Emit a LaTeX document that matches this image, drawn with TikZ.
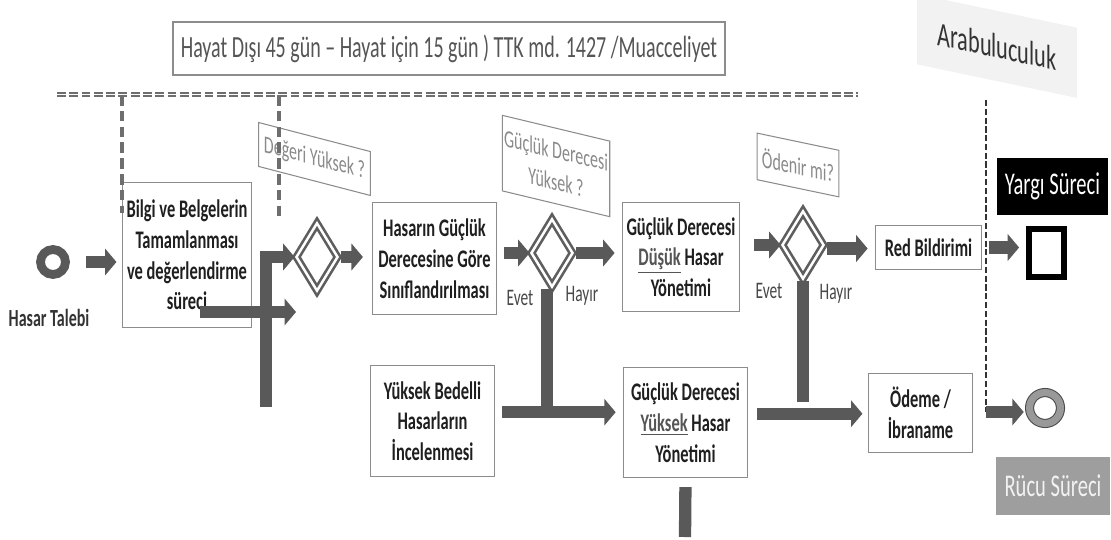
\documentclass[tikz,border=0pt]{standalone}
\usepackage{fontspec}
\setmainfont[FakeStretch=0.65]{Carlito}
\usetikzlibrary{arrows.meta,shapes.geometric}
\definecolor{arrgray}{HTML}{595959}
\definecolor{boxgray}{HTML}{8C8C8C}
\definecolor{txtgray}{HTML}{555555}
\definecolor{qgray}{HTML}{8A8A8A}
\definecolor{diagray}{HTML}{5E5E5E}
\definecolor{dashgray}{HTML}{6E6E6E}
\tikzset{
  box/.style={draw=boxgray, line width=0.6pt, fill=white, align=center, inner sep=1pt,
    text=black!88, font=\bfseries\fontsize{14.4}{17.5}\selectfont},
  blk/.style={draw=arrgray, line width=7pt, -{Triangle[length=6.5pt,width=15pt]}},
  barline/.style={draw=arrgray, line width=7pt},
  dia/.style={diamond, draw=diagray, double=white, double distance=1.4pt, line width=1.5pt,
    minimum width=24pt, minimum height=39pt, inner sep=0pt},
  qbox/.style={draw=boxgray, line width=0.6pt, fill=white, align=center, text=qgray,
    font=\fontsize{14}{16}\selectfont, inner sep=1pt},
  lbl/.style={text=black!72, font=\fontsize{13.5}{15}\selectfont, inner sep=0pt},
  thickdash/.style={draw=dashgray, line width=2.3pt, dash pattern=on 6pt off 3pt},
}
\begin{document}
\begin{tikzpicture}[x=0.02cm,y=-0.02cm]
\useasboundingbox (0,0) rectangle (1111,540);

% top note
\node[draw=boxgray, line width=0.9pt, minimum width=314pt, minimum height=30pt, text=txtgray,
  font=\fontsize{17.5}{19}\selectfont] (top) at (449,48.5)
  {Hayat Dışı 45 gün – Hayat için 15 gün ) TTK md. 1427 /Muacceliyet};

% Arabuluculuk
\node[yslant=-0.21, fill=black!5, minimum width=91pt, minimum height=40pt, text=black!80,
  font=\fontsize{19.5}{21}\selectfont] (arab) at (997,46) {Arabuluculuk};

% double dashed line
\coordinate (dl) at (57,94.5);
\coordinate (dr) at (858,94.5);
\draw[draw=dashgray, line width=1.2pt, double=white, double distance=0.9pt,
  dash pattern=on 5pt off 2pt] (dl) -- (dr);

% start ring
\node[circle, draw=arrgray, line width=5pt, minimum size=14.2pt, inner sep=0pt] (start) at (53,262) {};
\node[font=\bfseries\fontsize{14}{16}\selectfont, text=black!80] (startlbl) at (49,318) {Hasar Talebi};

% boxes
\node[box, minimum width=73.7pt, minimum height=82pt] (bilgi) at (187,255)
  {Bilgi ve Belgelerin\\Tamamlanması\\ve değerlendirme\\süreci};
\node[box, minimum width=70.9pt, minimum height=64pt] (sinif) at (434.5,258.5)
  {Hasarın Güçlük\\Derecesine Göre\\Sınıflandırılması};
\node[box, minimum width=67pt, minimum height=62.4pt] (dusuk) at (681,257)
  {Güçlük Derecesi\\{\color{txtgray}\underline{Düşük}} Hasar\\Yönetimi};
\node[box, minimum width=60.7pt, minimum height=25.5pt] (red) at (928.5,247.5) {Red Bildirimi};
\node[box, minimum width=70.9pt, minimum height=63.5pt] (bedelli) at (432.5,421)
  {Yüksek Bedelli\\Hasarların\\İncelenmesi};
\node[box, minimum width=70.9pt, minimum height=63pt] (yuksek) at (685.5,422.5)
  {Güçlük Derecesi\\{\color{txtgray}\underline{Yüksek}} Hasar\\Yönetimi};
\node[box, minimum width=59.5pt, minimum height=45.4pt] (odeme) at (920.5,413)
  {Ödeme /\\İbraname};

% right side
\node[fill=black, text=white, minimum width=63pt, minimum height=32.3pt,
  font=\fontsize{18}{20}\selectfont] (yargi) at (1052.5,186.5) {Yargı Süreci};
\node[draw=black, line width=3.4pt, minimum width=19.8pt, minimum height=27.2pt, inner sep=0pt] (sq) at (1046.5,253) {};
\node[circle, draw=black!70, double=black!40, double distance=4pt, line width=0.6pt,
  minimum size=17.6pt, inner sep=0pt] (endring) at (1045,408) {};
\node[fill=black!38, text=black!5, minimum width=64.6pt, minimum height=32.9pt,
  font=\fontsize{18}{20}\selectfont] (rucu) at (1053,486) {Rücu Süreci};

% question labels
\node[qbox, yslant=-0.26, minimum width=63.5pt, minimum height=25pt] (q1) at (314.5,159) {Değeri Yüksek ?};
\node[qbox, yslant=-0.24, minimum width=61pt, minimum height=43pt,
  font=\fontsize{14}{18}\selectfont] (q2) at (556,166) {Güçlük Derecesi\\Yüksek ?};
\node[qbox, yslant=-0.21, minimum width=46.5pt, minimum height=26.5pt] (q3) at (798,165) {Ödenir mi?};

% vertical thick dashed lines
\coordinate (v1t) at (122,95); \coordinate (v1b) at (122,213);
\coordinate (v2t) at (279,95); \coordinate (v2b) at (279,220);
\draw[thickdash] (v1t) -- (v1b);
\draw[thickdash] (v2t) -- (v2b);

% diamonds
\node[dia] (d1) at (317,257) {};
\node[dia] (d2) at (552,253) {};
\node[dia] (d3) at (803,245) {};

% Evet / Hayir
\node[lbl] (e1) at (520,298) {Evet};
\node[lbl] (h1) at (582,296) {Hayır};
\node[lbl] (e2) at (769,291) {Evet};
\node[lbl] (h2) at (836,294) {Hayır};

% connectors
\draw[blk, shorten <=9pt, shorten >=3pt] (start.east) -- (start.east -| bilgi.west);
\coordinate (b1bot) at (266,407);
\draw[blk] (b1bot) |- (d1.west);
\coordinate (s1) at (200,312);
\coordinate (s2) at (296,312);
\draw[blk] (s1) -- (s2);
\draw[blk, shorten <=1pt, shorten >=5pt] (d1.east) -- (d1.east -| sinif.west);
\draw[blk, shorten <=4pt, shorten >=0pt] (sinif.east |- d2.west) -- (d2.west);
\draw[blk, shorten <=1pt, shorten >=4pt] (d2.east) -- (d2.east -| dusuk.west);
\draw[blk, shorten <=8pt, shorten >=0pt] (dusuk.east |- d3.west) -- (d3.west);
\draw[blk, shorten <=1pt, shorten >=4pt] ([yshift=-2pt]d3.east) -- ([yshift=-2pt]d3.east -| red.west);
\draw[blk, shorten <=4pt, shorten >=4pt] (red.east) -- (red.east -| sq.west);
\draw[blk, shorten <=4pt, shorten >=4pt] ([yshift=5pt]bedelli.east) -- ([yshift=5pt]bedelli.east -| yuksek.west);
\draw[barline] ([xshift=-3pt]d2.south) -- ([xshift=-3pt]d2.south |- {(0,412)});
\draw[blk, shorten <=5pt, shorten >=3pt] ([yshift=5pt]yuksek.east) -- ([yshift=5pt]yuksek.east -| odeme.west);
\draw[barline] (d3.south) -- (d3.south |- {(0,402)});
\coordinate (ybot) at (685,537);
\draw[barline, shorten <=5pt] (yuksek.south) -- (ybot);

% right dashed line and arrow to end ring
\coordinate (rt) at (986,100);
\coordinate (rb) at (986,412);
\draw[draw=black!80, line width=1.4pt, dash pattern=on 3.5pt off 1.5pt] (rt) -- (rb);
\draw[blk, shorten >=3pt] (rb) -- (rb -| endring.west);
\end{tikzpicture}
\end{document}
